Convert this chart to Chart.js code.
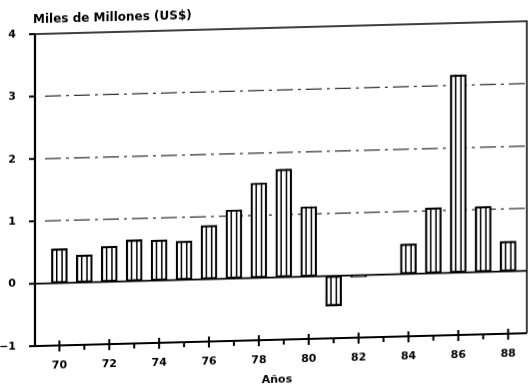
<!DOCTYPE html>
<html>
<head>
<meta charset="utf-8">
<script src="https://cdn.jsdelivr.net/npm/chart.js@4.4.0/dist/chart.umd.min.js"></script>
<style>
    html, body { margin: 0; padding: 0; background: #fff; overflow: hidden; }
    #chart { display: block; transform: skewY(-1.5deg); transform-origin: 0 50%; }
</style>
</head>
<body>
<canvas id="chart" width="532" height="398"></canvas>
<script>
// Datos
const years = [70, 71, 72, 73, 74, 75, 76, 77, 78, 79, 80, 81, 82, 83, 84, 85, 86, 87, 88];
const values = [0.55, 0.44, 0.57, 0.66, 0.65, 0.62, 0.86, 1.1, 1.52, 1.73, 1.12, -0.48, -0.03, 0, 0.48, 1.05, 3.17, 1.05, 0.48];
const yTicks = [-1, 0, 1, 2, 3, 4];
const gridValues = [1, 2, 3];
const yTitle = 'Miles de Millones (US$)';
const xTitle = 'Años';

const ink = '#000';
const labelFont = { family: 'DejaVu Sans', size: 11, weight: 'bold' };

// Plugin: hatching, grid, axes and texts
const plotterPlugin = {
    id: 'plotter',
    beforeDatasetsDraw(chart) {
        const ctx = chart.ctx;
        const area = chart.chartArea;
        const y = chart.scales.y;
        ctx.save();
        ctx.strokeStyle = '#333';
        ctx.lineWidth = 1.2;
        ctx.setLineDash([16, 5, 3, 5]);
        gridValues.forEach(v => {
            const py = y.getPixelForValue(v);
            ctx.beginPath();
            ctx.moveTo(area.left + 10, py);
            ctx.lineTo(area.right, py);
            ctx.stroke();
        });
        ctx.restore();
    },
    afterDatasetsDraw(chart) {
        const ctx = chart.ctx;
        const area = chart.chartArea;
        const x = chart.scales.x;
        const y = chart.scales.y;
        ctx.save();
        ctx.strokeStyle = ink;

        // vertical hatching inside bars
        ctx.lineWidth = 1.5;
        chart.getDatasetMeta(0).data.forEach(bar => {
            const p = bar.getProps(['x', 'y', 'base', 'width'], true);
            if (Math.abs(p.base - p.y) < 2) return;
            [-p.width / 6, p.width / 6].forEach(dx => {
                ctx.beginPath();
                ctx.moveTo(p.x + dx, p.y);
                ctx.lineTo(p.x + dx, p.base);
                ctx.stroke();
            });
        });

        // zero line
        const zero = y.getPixelForValue(0);
        ctx.lineWidth = 1.6;
        ctx.beginPath();
        ctx.moveTo(area.left, zero);
        ctx.lineTo(area.right, zero);
        ctx.stroke();

        // frame
        ctx.lineWidth = 1.5;
        ctx.beginPath();
        ctx.moveTo(area.left, area.top);
        ctx.lineTo(area.right, area.top);
        ctx.lineTo(area.right, area.bottom);
        ctx.stroke();
        ctx.lineWidth = 2.2;
        ctx.beginPath();
        ctx.moveTo(area.left, area.top);
        ctx.lineTo(area.left, area.bottom);
        ctx.lineTo(area.right, area.bottom);
        ctx.stroke();

        // ticks
        ctx.lineWidth = 2;
        years.forEach(v => {
            const px = x.getPixelForValue(v);
            const major = v % 2 === 0;
            ctx.beginPath();
            ctx.moveTo(px, area.bottom - (major ? 5 : 0));
            ctx.lineTo(px, area.bottom + (major ? 6 : 5));
            ctx.stroke();
        });
        yTicks.forEach(v => {
            const py = y.getPixelForValue(v);
            ctx.beginPath();
            ctx.moveTo(area.left - 6, py);
            ctx.lineTo(area.left, py);
            ctx.stroke();
        });

        // titles
        ctx.fillStyle = ink;
        ctx.font = 'bold 12px "DejaVu Sans"';
        ctx.textBaseline = 'middle';
        ctx.textAlign = 'left';
        ctx.fillText(yTitle, area.left - 2, 21);
        ctx.textAlign = 'center';
        ctx.font = 'bold 11px "DejaVu Sans"';
        ctx.fillText(xTitle, (area.left + area.right) / 2 - 4, 387);
        ctx.restore();
    }
};

const chart = new Chart(document.getElementById('chart'), {
    type: 'bar',
    data: {
        datasets: [{
            data: years.map((yr, i) => ({ x: yr, y: values[i] })),
            backgroundColor: '#ffffff',
            borderColor: ink,
            borderWidth: 2.2,
            borderSkipped: false,
            barThickness: 16
        }]
    },
    options: {
        responsive: false,
        animation: false,
        layout: { padding: { top: 35, right: 5, left: 0, bottom: 0 } },
        plugins: {
            legend: { display: false },
            tooltip: { enabled: false }
        },
        scales: {
            x: {
                type: 'linear',
                min: 69.54,
                max: 88.23,
                afterBuildTicks: (s) => { s.ticks = years.map(v => ({ value: v })); },
                afterFit: (s) => { s.height = 51; },
                ticks: {
                    autoSkip: false,
                    maxRotation: 0,
                    padding: 14,
                    color: ink,
                    font: labelFont,
                    callback: (v) => (v % 2 === 0 ? String(v) : '')
                },
                grid: { display: false, drawTicks: false },
                border: { display: false }
            },
            y: {
                min: -1,
                max: 4,
                afterBuildTicks: (s) => { s.ticks = yTicks.map(v => ({ value: v })); },
                afterFit: (s) => { s.width = 35; },
                ticks: {
                    padding: 19,
                    color: ink,
                    font: labelFont,
                    callback: (v) => String(v).replace('-', '\u2212')
                },
                grid: { display: false, drawTicks: false },
                border: { display: false }
            }
        }
    },
    plugins: [plotterPlugin]
});
</script>
</body>
</html>
